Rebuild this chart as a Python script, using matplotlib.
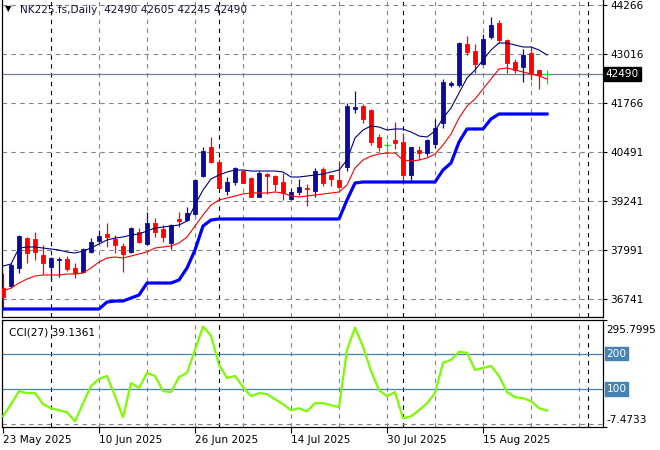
import numpy as np
import matplotlib
matplotlib.use("Agg")
import matplotlib.pyplot as plt

# NK225 daily bars, 23 May 2025 .. 27 Aug 2025
opens = [37021, 37072, 37533, 38301, 38276, 37866, 37559, 37738, 37764, 37533,
         37431, 37943, 38224, 38404, 38276, 38096, 37943, 38455, 38148, 38685,
         38532, 38173, 38788, 38762, 38916, 39888, 40631, 40247, 39504, 39735,
         40016, 39837, 39351, 39940, 39888, 39735, 39300, 39479, 39581, 39504,
         40068, 39914, 39786, 40119, 41604, 41680, 41578, 40887, 40682, 40810,
         40759, 39914, 40554, 40477, 40708, 41245, 42218, 42218, 43268, 43088,
         42756, 43447, 43805, 43370, 42807, 42679, 43037, 42602, 42490]
highs = [37405, 37661, 38378, 38327, 38455, 38122, 37815, 37815, 37840, 37661,
         38045, 38301, 38506, 38685, 38378, 38173, 38583, 38557, 38967, 38813,
         38634, 38650, 38967, 39095, 39812, 40631, 40887, 40324, 39863, 40119,
         40042, 39863, 40016, 39965, 39914, 39965, 39581, 39812, 39684, 40093,
         40119, 39925, 40272, 41757, 42064, 41732, 41604, 40964, 40784, 41271,
         40989, 40640, 40656, 40836, 41348, 42372, 42320, 43319, 43472, 43268,
         43524, 43959, 43882, 43396, 42884, 43140, 43191, 42610, 42605]
lows = [36458, 37021, 37405, 37661, 37738, 37380, 37226, 37303, 37456, 37277,
        37405, 37917, 38210, 38071, 37917, 37431, 37930, 38173, 38122, 38327,
        38199, 38020, 38583, 38736, 38900, 39863, 40221, 39570, 39402, 39658,
        39700, 39340, 39340, 39428, 39504, 39274, 39274, 39402, 39120, 39351,
        39632, 39632, 39581, 40016, 41501, 41245, 40682, 40528, 40477, 40580,
        39684, 39760, 40298, 40400, 40605, 41117, 42167, 42167, 42986, 42525,
        42730, 43396, 43293, 42525, 42525, 42295, 42346, 42116, 42245]
closes = [36791, 37610, 38352, 37917, 37943, 37661, 37789, 37764, 37508, 37405,
          38020, 38199, 38352, 38327, 38122, 37892, 38557, 38199, 38685, 38455,
          38327, 38634, 38736, 38941, 39786, 40528, 40247, 39581, 39735, 40093,
          39709, 39351, 39965, 39901, 39684, 39453, 39479, 39607, 39543, 40016,
          39709, 39812, 39607, 41680, 41655, 41348, 40759, 40631, 40682, 40733,
          39914, 40631, 40477, 40810, 41117, 42295, 42269, 43293, 43063, 42756,
          43396, 43754, 43370, 42781, 42602, 42986, 42525, 42474, 42490]

ma_slow = [37584, 37636, 38045, 38071, 38071, 38045, 38020, 37994, 37943, 37917,
           37968, 38045, 38148, 38250, 38301, 38327, 38378, 38404, 38480, 38557,
           38583, 38608, 38634, 38736, 39146, 39530, 39812, 39914, 39991, 40042,
           40042, 40016, 40016, 40016, 40016, 39991, 39863, 39863, 39888, 39914,
           39940, 39991, 40042, 40298, 40861, 41066, 41168, 41143, 41066, 41092,
           41092, 41015, 40912, 40887, 41040, 41373, 41629, 42013, 42397, 42602,
           42858, 43114, 43293, 43293, 43242, 43191, 43191, 43114, 42986]
ma_fast = [36944, 37021, 37149, 37252, 37328, 37354, 37354, 37354, 37380, 37380,
           37405, 37533, 37687, 37789, 37815, 37789, 37840, 37892, 37943, 38045,
           38071, 38096, 38173, 38327, 38608, 38890, 39146, 39274, 39325, 39376,
           39428, 39453, 39453, 39453, 39479, 39453, 39376, 39351, 39376, 39402,
           39428, 39453, 39479, 39658, 40093, 40298, 40400, 40452, 40477, 40477,
           40298, 40272, 40298, 40349, 40452, 40682, 40964, 41373, 41680, 41860,
           42116, 42372, 42628, 42653, 42602, 42551, 42500, 42448, 42372]
channel = [36484, 36484, 36484, 36484, 36484, 36484, 36484, 36484, 36484, 36484,
           36484, 36484, 36484, 36663, 36688, 36688, 36765, 36842, 37149, 37149,
           37149, 37149, 37226, 37533, 37994, 38608, 38762, 38788, 38788, 38788,
           38788, 38788, 38788, 38788, 38788, 38788, 38788, 38788, 38788, 38788,
           38788, 38788, 38788, 39274, 39709, 39735, 39735, 39735, 39735, 39735,
           39735, 39735, 39735, 39735, 39735, 40042, 40221, 40759, 41092, 41092,
           41092, 41348, 41476, 41476, 41476, 41476, 41476, 41476, 41476]

cci = [22.9, 57.1, 94.3, 88.6, 88.6, 57.1, 45.7, 40.0, 34.3, 8.6,
       60.0, 108.6, 128.6, 137.1, 80.0, 20.0, 117.1, 102.9, 145.7, 137.1,
       94.3, 91.4, 134.3, 145.7, 211.4, 277.1, 251.4, 168.6, 131.4, 137.1,
       105.7, 80.0, 88.6, 85.7, 71.4, 57.1, 40.0, 45.7, 37.1, 60.0,
       60.0, 54.3, 48.6, 211.4, 274.3, 220.0, 151.4, 97.1, 80.0, 91.4,
       17.1, 22.9, 40.0, 60.0, 88.6, 174.3, 182.9, 205.7, 202.9, 154.3,
       160.0, 165.7, 137.1, 91.4, 77.1, 74.3, 65.7, 45.7, 39.1361]

date_labels = ["23 May 2025", "10 Jun 2025", "26 Jun 2025",
               "14 Jul 2025", "30 Jul 2025", "15 Aug 2025"]
date_bars = [0, 12, 24, 36, 48, 60]
month_bars = [6, 27, 50, 73.1]
price_ticks = [44266, 43016, 41766, 40491, 39241, 37991, 36741]
last_price = 42490
cci_min, cci_max = -7.4733, 295.7995
cci_levels = [100, 200]

BULL = "#0c0c9a"
BEAR = "#ff0000"
DOJI = "#00ee00"
GRID = "#7a8593"
FS = 7.6

W, H = 660, 450
fig = plt.figure(figsize=(W / 100, H / 100), dpi=100)
ax = fig.add_axes([2 / W, 1 - 317 / H, 601 / W, 317 / H])
ax2 = fig.add_axes([2 / W, 1 - 427 / H, 601 / W, 107 / H])

x = np.arange(len(opens))
for a in (ax, ax2):
    a.set_xlim(-0.125, 75)
    for s in a.spines.values():
        s.set_color("black")
        s.set_linewidth(0.9)
    for b in range(6, 76, 6):
        if b != 6:
            a.axvline(b, color=GRID, lw=0.8, ls=(0, (4, 4)), zorder=0)
    for b in month_bars:
        a.axvline(b, color="black", lw=0.8, ls=(0, (4, 4)), zorder=0)

# price panel
ax.set_ylim(36279, 44394)
ax.spines["top"].set_visible(False)
for p in price_ticks:
    ax.axhline(p, color=GRID, lw=0.8, ls=(0, (4, 4)), zorder=0)
ax.axhline(last_price, color="#708090", lw=0.9, zorder=1)

for i in x:
    o, h, l, c = opens[i], highs[i], lows[i], closes[i]
    col = BULL if c > o else (BEAR if c < o else DOJI)
    ax.vlines(i, l, h, color=col, lw=0.9, zorder=2)
    if c != o:
        ax.bar(i, abs(c - o), bottom=min(o, c), width=0.6, color=col,
               edgecolor=col, lw=0.6, zorder=3)
    else:
        ax.hlines(c, i - 0.32, i + 0.32, color=col, lw=0.9, zorder=3)

ax.plot(x, channel, color="#0000ff", lw=2.3, zorder=4)
ax.plot(x, ma_slow, color="#000080", lw=0.8, zorder=4)
ax.plot(x, ma_fast, color="#ff0000", lw=0.8, zorder=4)

ax.yaxis.tick_right()
ax.set_yticks(price_ticks)
ax.set_yticklabels([str(p) for p in price_ticks])
ax.tick_params(axis="y", length=3, width=0.8, pad=2, labelsize=FS)
ax.set_xticks([])
ax.text(1.004, last_price, str(last_price), transform=ax.get_yaxis_transform(),
        va="center", ha="left", color="white", fontsize=FS,
        bbox=dict(boxstyle="square,pad=0.18", fc="black", ec="black"))

fig.text(5 / W, 1 - 9 / H, "\u25bc", fontsize=6, va="center", ha="left")
fig.text(20 / W, 1 - 10 / H, "NK225.fs,Daily  42490 42605 42245 42490",
         fontsize=FS, va="center", ha="left", color="#14143c")

# CCI panel
ax2.set_ylim(cci_min, cci_max)
ax2.axhline(0, color=GRID, lw=0.8, ls=(0, (4, 4)), zorder=0)
for lv in cci_levels:
    ax2.axhline(lv, color="#4682b4", lw=0.9, zorder=1)
ax2.plot(x, cci, color="#7cfc00", lw=1.6, zorder=3)
ax2.yaxis.tick_right()
ax2.set_yticks([cci_min, cci_max])
ax2.set_yticklabels([])
ax2.tick_params(axis="y", length=3, width=0.8)
ytr = ax2.get_yaxis_transform()
ax2.text(1.006, cci_max - 28, "295.7995", transform=ytr, va="center",
         ha="left", fontsize=FS)
ax2.text(1.006, cci_min + 20, "-7.4733", transform=ytr, va="center",
         ha="left", fontsize=FS)
for lv in cci_levels:
    ax2.text(1.006, lv, str(lv), transform=ytr, va="center", ha="left",
             color="white", fontsize=FS,
             bbox=dict(boxstyle="square,pad=0.15", fc="#4682b4", ec="#4682b4"))
ax2.text(7 / 601, 0.88, "CCI(27) 39.1361", transform=ax2.transAxes,
         fontsize=FS, va="center", ha="left")

ax2.set_xticks(date_bars)
ax2.set_xticklabels(date_labels, ha="left")
ax2.tick_params(axis="x", length=4, width=0.8, pad=2, labelsize=FS)

fig.savefig("out.png", dpi=100)
